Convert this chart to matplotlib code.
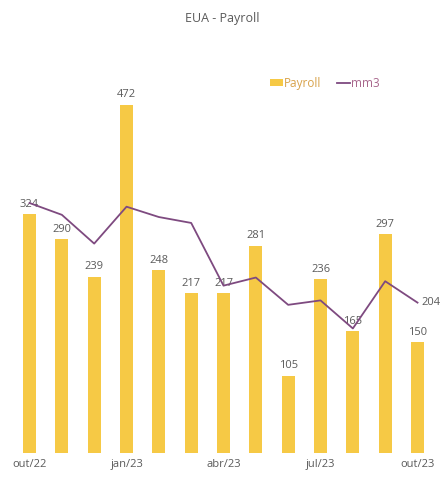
import numpy as np
import matplotlib
matplotlib.use("Agg")
import matplotlib.pyplot as plt

plt.rcParams['font.family'] = ['Open Sans', 'DejaVu Sans']

# --- Data ---
months = ['out/22', 'nov/22', 'dez/22', 'jan/23', 'fev/23', 'mar/23', 'abr/23',
          'mai/23', 'jun/23', 'jul/23', 'ago/23', 'set/23', 'out/23']
payroll = [324, 290, 239, 472, 248, 217, 217, 281, 105, 236, 165, 297, 150]
mm3 = [339, 323, 284, 334, 320, 312, 227, 238, 201, 207, 169, 233, 204]
tick_idx = [0, 3, 6, 9, 12]

bar_color = '#F6C945'
line_color = '#7E4A80'
text_gray = '#5a5a5a'

fig = plt.figure(figsize=(4.4, 4.79), dpi=100)
ax = fig.add_axes([0.023, 0.054, 0.970, 0.821])

x = np.arange(len(months))
bars = ax.bar(x, payroll, width=0.4, color=bar_color, label='Payroll', zorder=2)
line, = ax.plot(x, mm3, color=line_color, lw=1.3, label='mm3', zorder=3)

# data labels above bars
for xi, v in zip(x, payroll):
    ax.text(xi, v + 6, str(v), ha='center', va='bottom', fontsize=8,
            color=text_gray, zorder=1)
# last moving-average value
ax.text(x[-1] + 0.12, mm3[-1], str(mm3[-1]), ha='left', va='center',
        fontsize=8, color=text_gray, clip_on=False)

ax.set_xlim(-0.6, 12.6)
ax.set_ylim(0, 533)
ax.set_xticks(x[tick_idx])
ax.set_xticklabels([months[i] for i in tick_idx], fontsize=8, color=text_gray)
ax.tick_params(axis='x', length=0, pad=4)
ax.set_yticks([])
for s in ax.spines.values():
    s.set_visible(False)

fig.text(0.505, 0.962, 'EUA - Payroll', ha='center', va='center',
         fontsize=9, color=text_gray)

leg = ax.legend([bars, line], ['Payroll', 'mm3'], loc='center left',
                bbox_to_anchor=(0.595, 0.941), ncol=2, frameon=False,
                fontsize=8.5, handlelength=1.1, handleheight=0.5,
                handletextpad=0.1, columnspacing=1.3, borderpad=0)
leg.get_texts()[0].set_color('#D8A24A')
leg.get_texts()[1].set_color('#A8668C')

fig.savefig('out.png', dpi=100)
